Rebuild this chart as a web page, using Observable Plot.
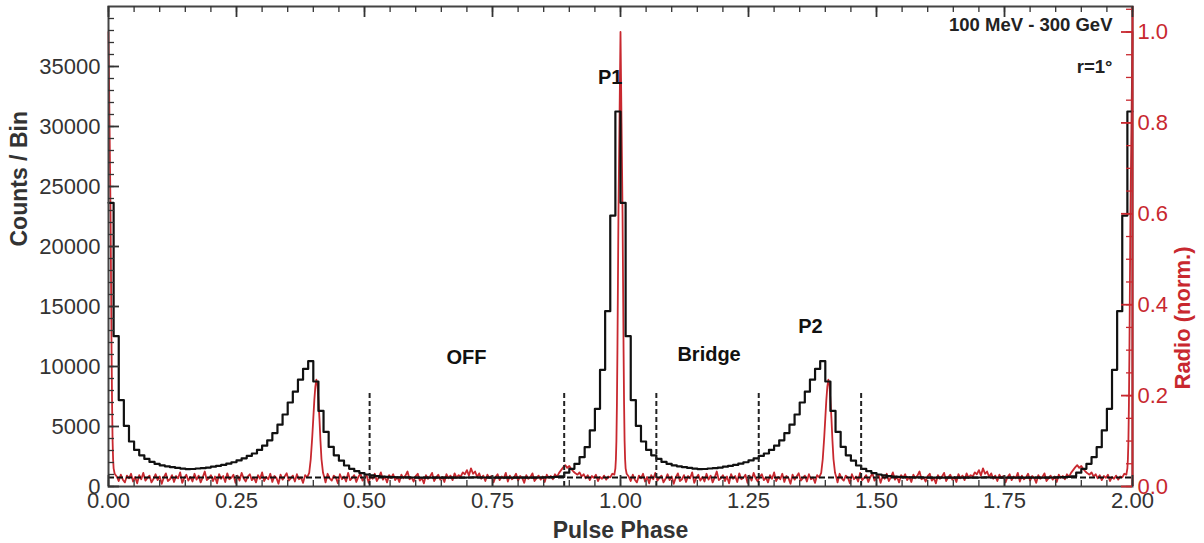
<!DOCTYPE html>
<html><head><meta charset="utf-8">
<script src="https://cdn.jsdelivr.net/npm/d3@7"></script>
<script src="https://cdn.jsdelivr.net/npm/@observablehq/plot@0.6"></script>
<style>body{margin:0;background:#fff}</style>
</head><body><div id="chart"></div>
<script>
// ---- data (one rotation; the figure shows two identical rotations) ----
const binWidth = 0.01;
const countsPerBin = [
  23640,12530,7200,5050,3750,3050,2600,2300,2050,1880,
  1760,1680,1610,1550,1490,1450,1460,1500,1530,1580,
  1650,1720,1800,1900,2020,2170,2350,2550,2750,3050,
  3400,3850,4450,5150,6000,7000,7900,8900,9800,10440,
  8750,6300,4550,3300,2600,2150,1750,1470,1280,1120,
  1000,920,860,820,800,785,770,760,755,750,
  745,742,740,738,740,736,735,738,740,745,
  750,755,752,748,745,742,740,738,735,733,
  732,735,740,745,752,762,775,795,840,1150,
  1470,1890,2440,3280,4670,6470,9720,14610,22580,31250
];
const radioStep = 0.004;
const radioBase = [
  0.020,0.020,0.020,0.020,0.022,0.012,0.026,0.015,0.009,0.024,
  0.018,0.028,0.011,0.021,0.007,0.025,0.016,0.030,0.013,0.019,
  0.024,0.009,0.017,0.027,0.014,0.022,0.006,0.020,0.029,0.012,
  0.016,0.025,0.010,0.023,0.018,0.031,0.008,0.019,0.026,0.013,
  0.021,0.011,0.028,0.015,0.024,0.009,0.020,0.033,0.014,0.018,
  0.025,0.012,0.022,0.007,0.027,0.017,0.023,0.010,0.029,0.016,
  0.019,0.026,0.008,0.024,0.013,0.030,0.018,0.011,0.022,0.027,
  0.014,0.020,0.009,0.025,0.017,0.031,0.012,0.021,0.016,0.028,
  0.010,0.023,0.019,0.006,0.026,0.015,0.022,0.029,0.013,0.018,
  0.024,0.011,0.027,0.016,0.020,0.008,0.025,0.014,0.032,0.019,
  0.017,0.021,0.012,0.026,0.015,0.023,0.009,0.028,0.018,0.013,
  0.024,0.020,0.007,0.027,0.016,0.022,0.011,0.030,0.014,0.019,
  0.025,0.010,0.021,0.029,0.013,0.018,0.026,0.008,0.023,0.017,
  0.028,0.012,0.020,0.031,0.015,0.022,0.009,0.025,0.019,0.027,
  0.014,0.021,0.010,0.026,0.018,0.024,0.033,0.016,0.020,0.011,
  0.023,0.028,0.013,0.019,0.007,0.025,0.017,0.022,0.030,0.012,
  0.020,0.026,0.015,0.021,0.010,0.027,0.018,0.024,0.014,0.029,
  0.019,0.025,0.022,0.031,0.027,0.036,0.024,0.040,0.028,0.033,
  0.021,0.029,0.017,0.024,0.012,0.026,0.019,0.023,0.009,0.021,
  0.027,0.014,0.022,0.018,0.030,0.011,0.024,0.016,0.020,0.028,
  0.013,0.023,0.019,0.008,0.025,0.017,0.021,0.029,0.012,0.018,
  0.024,0.015,0.022,0.010,0.026,0.019,0.023,0.016,0.027,0.021,
  0.030,0.036,0.042,0.047,0.041,0.045,0.038,0.033,0.029,0.026,
  0.031,0.022,0.027,0.018,0.025,0.014,0.023,0.019,0.026,0.012,
  0.021,0.017,0.024,0.015,0.022,0.020,0.028,0.025,0.020,0.020
];
const radioPeakPhase = [0.988,0.990,0.991,0.992,0.993,0.994,0.995,0.996,0.997,0.998,0.999,
  0.000,0.001,0.002,0.003,0.004,0.005,0.006,0.007,0.008,0.009,0.010,0.012,
  0.388,0.392,0.395,0.398,0.400,0.402,0.404,0.406,0.408,0.410,0.412,0.414,0.416,0.419,0.422];
const radioPeakValue = [0.026,0.04,0.06,0.10,0.18,0.30,0.45,0.60,0.70,0.80,0.90,
  1.00,0.90,0.80,0.70,0.60,0.45,0.30,0.18,0.10,0.06,0.04,0.028,
  0.020,0.030,0.060,0.110,0.150,0.190,0.220,0.235,0.225,0.190,0.150,0.100,0.060,0.030,0.018];
const regionEdges = [0.51, 0.89, 1.07, 1.27, 1.47];
const regionTop = 8000;
const backgroundLevel = 750;
const annotations = [
  {label: "P1", phase: 0.980, counts: 33580},
  {label: "OFF", phase: 0.699, counts: 10170},
  {label: "Bridge", phase: 1.173, counts: 10420},
  {label: "P2", phase: 1.371, counts: 12830}
];
const xMajorTicks = [0, 0.25, 0.5, 0.75, 1, 1.25, 1.5, 1.75, 2];
const yMajorTicks = [0, 5000, 10000, 15000, 20000, 25000, 30000, 35000];
const radioMajorTicks = [0, 0.2, 0.4, 0.6, 0.8, 1.0];

// ---- derived tables ----
const RED = "#c8282f";
const radioToCounts = 37875;   // counts-axis value at radio = 1.0
const xMinorTicks = d3.range(0, 2.0001, 0.05);
const yMinorTicks = d3.range(0, 40000, 1000);
const radioMinorTicks = d3.range(0, 1.051, 0.05).map(v => v * radioToCounts);

const hist = [];
for (let c = 0; c < 2; c++) countsPerBin.forEach((v, i) => hist.push({phase: c + i * binWidth, counts: v}));
hist.push({phase: 2, counts: countsPerBin[countsPerBin.length - 1]});

const inPeak = p => p >= 0.9875 || p <= 0.0125 || (p >= 0.387 && p <= 0.423);
let cycle = radioBase.map((v, i) => ({p: +(i * radioStep).toFixed(4), v})).filter(d => !inPeak(d.p));
radioPeakPhase.forEach((p, i) => cycle.push({p, v: radioPeakValue[i]}));
cycle.sort((a, b) => a.p - b.p);
const radio = [];
for (let c = 0; c < 2; c++) cycle.forEach(d => radio.push({phase: c + d.p, y: d.v * radioToCounts}));
radio.push({phase: 2, y: cycle[0].v * radioToCounts});

const W = 1204, H = 543, mL = 108, mR = 72, mT = 6, mB = 57;
const pw = W - mL - mR, ph = H - mT - mB;

const chart = Plot.plot({
  width: W, height: H,
  marginLeft: mL, marginRight: mR, marginTop: mT, marginBottom: mB,
  x: {domain: [0, 2]},
  y: {domain: [0, 40000]},
  style: {fontFamily: "'Liberation Sans', Arial, sans-serif", fontSize: "22px", background: "#fff"},
  marks: [
    Plot.line(radio, {x: "phase", y: "y", stroke: RED, strokeWidth: 1.8}),
    Plot.line(hist, {x: "phase", y: "counts", curve: "step-after", stroke: "#111", strokeWidth: 2.2}),
    Plot.ruleX(regionEdges, {x: d => d, y1: 0, y2: regionTop, stroke: "#222", strokeWidth: 2, strokeDasharray: "5,3"}),
    Plot.ruleY([backgroundLevel], {y: d => d, stroke: "#111", strokeWidth: 1.8, strokeDasharray: "6,3"}),
    // frame
    Plot.frame({stroke: "#444", strokeWidth: 2}),
    Plot.ruleX([2], {x: d => d, stroke: RED, strokeWidth: 2}),
    // inward tick marks
    Plot.tickX(xMajorTicks, {x: d => d, insetTop: ph - 11, stroke: "#333", strokeWidth: 1.8}),
    Plot.tickX(xMinorTicks, {x: d => d, insetTop: ph - 6, stroke: "#333", strokeWidth: 1.3}),
    Plot.tickX(xMajorTicks, {x: d => d, insetBottom: ph - 11, stroke: "#333", strokeWidth: 1.8}),
    Plot.tickX(xMinorTicks, {x: d => d, insetBottom: ph - 6, stroke: "#333", strokeWidth: 1.3}),
    Plot.tickY(yMajorTicks, {y: d => d, insetRight: pw - 11, stroke: "#333", strokeWidth: 1.8}),
    Plot.tickY(yMinorTicks, {y: d => d, insetRight: pw - 6, stroke: "#333", strokeWidth: 1.3}),
    Plot.tickY(radioMajorTicks.map(v => v * radioToCounts), {y: d => d, insetLeft: pw - 11, stroke: RED, strokeWidth: 1.8}),
    Plot.tickY(radioMinorTicks, {y: d => d, insetLeft: pw - 6, stroke: RED, strokeWidth: 1.3}),
    // tick labels
    Plot.axisX({anchor: "bottom", ticks: xMajorTicks, tickSize: 0, tickPadding: 6, tickFormat: d3.format(".2f"), label: null, fill: "#333", fontSize: 22}),
    Plot.axisY({anchor: "left", ticks: yMajorTicks, tickSize: 0, tickPadding: 8, tickFormat: d => String(d), label: null, fill: "#333", fontSize: 22}),
    Plot.axisY({anchor: "right", ticks: radioMajorTicks.map(v => v * radioToCounts), tickSize: 0, tickPadding: 5,
      tickFormat: d => d3.format(".1f")(d / radioToCounts), label: null, fill: RED, fontSize: 22}),
    // annotations
    Plot.text(annotations, {x: "phase", y: "counts", text: "label", fontSize: 20, fontWeight: "bold", fill: "#111", lineAnchor: "bottom"}),
    Plot.text(["100 MeV - 300 GeV"], {frameAnchor: "top-right", dx: -20, dy: 24, text: d => d, textAnchor: "end", lineAnchor: "bottom", fontSize: 18.5, fontWeight: "bold", fill: "#222"}),
    Plot.text(["r=1°"], {frameAnchor: "top-right", dx: -20, dy: 66, text: d => d, textAnchor: "end", lineAnchor: "bottom", fontSize: 18.5, fontWeight: "bold", fill: "#222"}),
    // axis titles
    Plot.text(["Pulse Phase"], {frameAnchor: "bottom", dy: 51, text: d => d, lineAnchor: "bottom", fontSize: 23, fontWeight: "bold", fill: "#333"}),
    Plot.text(["Counts / Bin"], {frameAnchor: "left", dx: -89, text: d => d, rotate: -90, fontSize: 23, fontWeight: "bold", fill: "#333"}),
    Plot.text(["Radio (norm.)"], {frameAnchor: "right", dx: 50, text: d => d, rotate: -90, fontSize: 22, fontWeight: "bold", fill: RED})
  ]
});
document.getElementById("chart").appendChild(chart);
</script>
</body></html>
